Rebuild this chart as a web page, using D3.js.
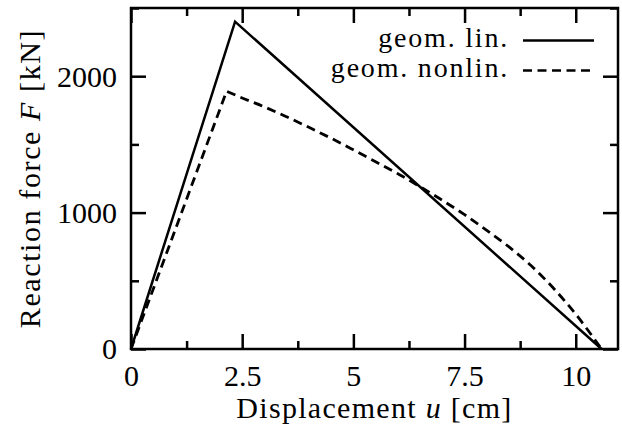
<!DOCTYPE html>
<html>
<head>
<meta charset="utf-8">
<script src="https://cdn.jsdelivr.net/npm/d3@7"></script>
<style>
  body { margin: 0; background: #fff; }
  text { font-family: "Liberation Serif", "DejaVu Serif", serif; fill: #000; }
</style>
</head>
<body>
<svg id="chart" width="622" height="433"></svg>
<script>
// reaction force vs displacement, two analyses
const linU = [0, 2.34, 10.58];
const linF = [0, 2400, 0];

const nonlinU = [0, 2.15, 2.5, 3, 3.5, 4, 4.5, 5, 5.5, 6, 6.5, 7, 7.5, 8, 8.5, 9, 9.5, 10, 10.58];
const nonlinF = [0, 1890, 1840, 1775, 1702, 1625, 1545, 1460, 1373, 1285, 1190, 1090, 985, 870, 748, 610, 445, 255, 0];

const xMajor = [0, 2.5, 5, 7.5, 10];
const xMinor = [1.25, 3.75, 6.25, 8.75];
const yMajor = [0, 1000, 2000];
const yMinor = [500, 1500, 2500];

const legendNames = ['geom. lin.', 'geom. nonlin.'];

const W = 622, H = 433;
const margin = { top: 8, right: 4, bottom: 84, left: 131 };
const iw = W - margin.left - margin.right;
const ih = H - margin.top - margin.bottom;

const svg = d3.select('#chart');
const g = svg.append('g').attr('transform', `translate(${margin.left},${margin.top})`);

const x = d3.scaleLinear().domain([0, 10.95]).range([0, iw]);
const y = d3.scaleLinear().domain([0, 2500]).range([ih, 0]);

const fmtX = d => (d === 2.5 || d === 7.5) ? d.toFixed(1) : d3.format('d')(d);

// ticks point inward on all four sides
function strip(sel) {
  sel.select('.domain').remove();
  sel.selectAll('.tick line').attr('stroke', '#000').attr('stroke-width', 2.5);
  return sel;
}

const bottom = g.append('g').attr('transform', `translate(0,${ih})`)
  .call(d3.axisBottom(x).tickValues(xMajor).tickFormat(fmtX).tickSize(-15));
strip(bottom);
bottom.selectAll('text').attr('y', 37).attr('dy', null).style('font-size', '30px');

strip(g.append('g').attr('transform', `translate(0,${ih})`)
  .call(d3.axisBottom(x).tickValues(xMinor).tickFormat('').tickSize(-8)));
strip(g.append('g')
  .call(d3.axisTop(x).tickValues(xMajor).tickFormat('').tickSize(-15)));
strip(g.append('g')
  .call(d3.axisTop(x).tickValues(xMinor).tickFormat('').tickSize(-8)));

const left = g.append('g')
  .call(d3.axisLeft(y).tickValues(yMajor).tickFormat(d3.format('d')).tickSize(-15).tickPadding(14));
strip(left);
left.selectAll('text').style('font-size', '30px').attr('dy', '0.33em');

strip(g.append('g')
  .call(d3.axisLeft(y).tickValues(yMinor).tickFormat('').tickSize(-8)));
strip(g.append('g').attr('transform', `translate(${iw},0)`)
  .call(d3.axisRight(y).tickValues(yMajor).tickFormat('').tickSize(-15)));
strip(g.append('g').attr('transform', `translate(${iw},0)`)
  .call(d3.axisRight(y).tickValues(yMinor).tickFormat('').tickSize(-8)));

// frame
g.append('rect')
  .attr('width', iw).attr('height', ih)
  .attr('fill', 'none').attr('stroke', '#000').attr('stroke-width', 2.5);

// curves
const line = d3.line().x(d => x(d[0])).y(d => y(d[1]));
const smooth = d3.line().x(d => x(d[0])).y(d => y(d[1])).curve(d3.curveMonotoneX);
const linData = d3.zip(linU, linF);
const nonlinData = d3.zip(nonlinU, nonlinF);

g.append('path').datum(linData)
  .attr('d', line)
  .attr('fill', 'none').attr('stroke', '#000').attr('stroke-width', 2.5)
  .attr('stroke-linejoin', 'miter');

// loading branch straight, softening branch smooth
const peak = 1;
g.append('path')
  .attr('d', line(nonlinData.slice(0, peak + 1)) + smooth(nonlinData.slice(peak)).replace(/^M/, 'L'))
  .attr('fill', 'none').attr('stroke', '#000').attr('stroke-width', 2.8)
  .attr('stroke-dasharray', '9,5.5');

// legend
const legend = svg.append('g');
const dashes = [null, '9,5.5'];
legendNames.forEach((name, i) => {
  const yy = 40.5 + i * 30;
  legend.append('text')
    .attr('x', 509).attr('y', yy + 6.5)
    .attr('text-anchor', 'end')
    .style('font-size', '28px')
    .style('letter-spacing', '1.8px')
    .text(name);
  legend.append('line')
    .attr('x1', 523).attr('x2', 594).attr('y1', yy).attr('y2', yy)
    .attr('stroke', '#000').attr('stroke-width', 2.5)
    .attr('stroke-dasharray', dashes[i]);
});

// axis titles
const xt = svg.append('text')
  .attr('x', margin.left + iw / 2).attr('y', 418)
  .attr('text-anchor', 'middle')
  .style('font-size', '30px')
  .style('letter-spacing', '1.3px');
xt.append('tspan').text('Displacement ');
xt.append('tspan').style('font-style', 'italic').text('u');
xt.append('tspan').text(' [cm]');

const yt = svg.append('text')
  .attr('transform', `translate(40,${margin.top + ih / 2}) rotate(-90)`)
  .attr('text-anchor', 'middle')
  .style('font-size', '30px')
  .style('letter-spacing', '1.6px');
yt.append('tspan').text('Reaction force ');
yt.append('tspan').style('font-style', 'italic').text('F');
yt.append('tspan').text(' [kN]');
</script>
</body>
</html>
